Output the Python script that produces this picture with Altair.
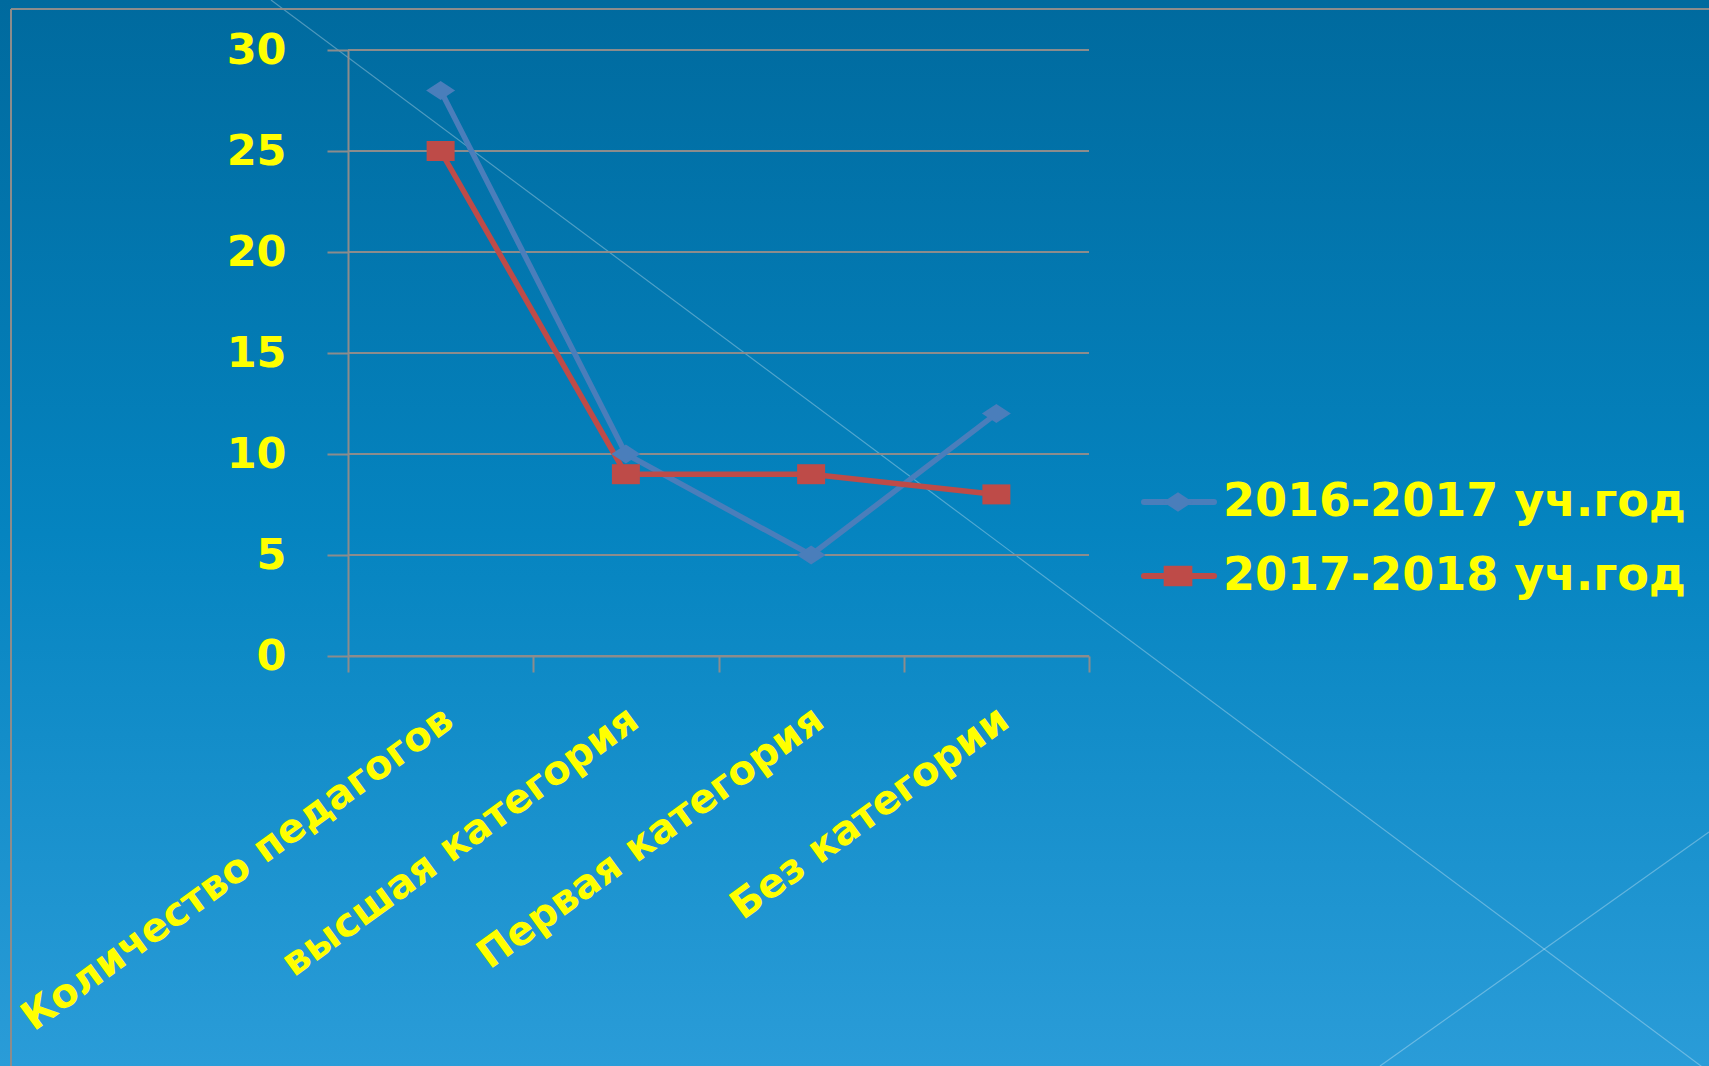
import altair as alt
import pandas as pd

# ---- data ----
categories = ["Количество педагогов", "высшая категория", "Первая категория", "Без категории"]
series_names = ["2016-2017 уч.год", "2017-2018 уч.год"]
values_2016_2017 = [28, 10, 5, 12]
values_2017_2018 = [25, 9, 9, 8]
y_ticks = [0, 5, 10, 15, 20, 25, 30]

df = pd.DataFrame({
    "category": categories * 2,
    "series": [series_names[0]] * len(categories) + [series_names[1]] * len(categories),
    "value": values_2016_2017 + values_2017_2018,
})
leg_df = pd.DataFrame({"series": series_names})
tick_df = pd.DataFrame({"value": y_ticks})

W, H = 1709, 1066
YELLOW = "#ffff00"
GRID = "#8c8c8c"
BLUE = "#4a7ebb"
RED = "#be4b48"
DIAMOND = "M0,-0.95L1.45,0L0,0.95L-1.45,0Z"
SQUARE = "M-1.4,-1H1.4V1H-1.4Z"

color_scale = alt.Scale(domain=series_names, range=[BLUE, RED])
shape_scale = alt.Scale(domain=series_names, range=[DIAMOND, SQUARE])
one = pd.DataFrame({"k": [0]})

# ---- background ----
bg = alt.Chart(one).mark_rect(
    color=alt.Gradient(
        gradient="linear",
        stops=[
            alt.GradientStop(color="#006a9e", offset=0),
            alt.GradientStop(color="#0584c0", offset=0.5),
            alt.GradientStop(color="#2a9cd8", offset=1),
        ],
        x1=0, x2=0, y1=0, y2=1,
    )
).encode(x=alt.value(0), x2=alt.value(W), y=alt.value(0), y2=alt.value(H))

deco1 = alt.Chart(one).mark_rule(color="#ffffff", opacity=0.3, strokeWidth=1.2).encode(
    x=alt.value(271), y=alt.value(0), x2=alt.value(1709), y2=alt.value(1072))
deco2 = alt.Chart(one).mark_rule(color="#ffffff", opacity=0.3, strokeWidth=1.2).encode(
    x=alt.value(1709), y=alt.value(832), x2=alt.value(1380), y2=alt.value(1066))
border_v = alt.Chart(one).mark_rule(color=GRID, strokeWidth=2).encode(
    x=alt.value(11), y=alt.value(9), y2=alt.value(H))
border_h = alt.Chart(one).mark_rule(color=GRID, strokeWidth=2).encode(
    x=alt.value(11), x2=alt.value(W), y=alt.value(9))

# ---- data layers ----
x_enc = alt.X(
    "category:N",
    sort=categories,
    bandPosition=0.5,
    scale=alt.Scale(type="band", domain=categories, range=[348, 1089],
                    paddingInner=0, paddingOuter=0),
    axis=alt.Axis(
        title=None, orient="bottom", offset=-(H - 656), grid=False, zindex=1,
        domainColor=GRID, domainWidth=2, tickColor=GRID, tickWidth=2,
        tickSize=16, tickBand="extent",
        labelAngle=-36, labelAlign="right", labelBaseline="top",
        labelFont="DejaVu Sans", labelFontWeight="bold", labelFontSize=40,
        labelColor=YELLOW, labelPadding=27, labelOffset=-4,
        labelLimit=2000, labelOverlap=False,
    ),
)
y_scale = alt.Scale(domain=[0, 30], range=[656, 50], nice=False, zero=True)
y_axis = alt.Axis(
    title=None, orient="left", offset=-348, values=y_ticks, zindex=1,
    domainColor=GRID, domainWidth=2, tickColor=GRID, tickWidth=2, tickSize=21,
    grid=False,
    labelFont="DejaVu Sans", labelFontWeight="bold", labelFontSize=43,
    labelColor=YELLOW, labelPadding=41, labelBaseline="middle",
)
y_enc = alt.Y("value:Q", scale=y_scale, axis=y_axis)

grid = alt.Chart(tick_df).mark_rule(color=GRID, strokeWidth=2).encode(
    y=y_enc, x=alt.value(348), x2=alt.value(1089),
)
base = alt.Chart(df).encode(
    x=x_enc, y=y_enc,
    color=alt.Color("series:N", scale=color_scale, legend=None),
)
lines = base.mark_line(strokeWidth=5.5)
points = base.mark_point(filled=True, opacity=1, size=400).encode(
    shape=alt.Shape("series:N", scale=shape_scale, legend=None))
data_layer = alt.layer(grid, lines, points)

# ---- legend ----
leg_y = alt.Y("series:N", scale=alt.Scale(type="point", domain=series_names,
                                           range=[502, 576], padding=0), axis=None)
leg_base = alt.Chart(leg_df).encode(
    y=leg_y,
    color=alt.Color("series:N", scale=color_scale, legend=None),
)
leg_rule = leg_base.mark_rule(strokeWidth=6, strokeCap="round").encode(
    x=alt.value(1144), x2=alt.value(1214))
leg_pt = leg_base.mark_point(filled=True, opacity=1, size=420).encode(
    x=alt.value(1178), shape=alt.Shape("series:N", scale=shape_scale, legend=None))
leg_text = alt.Chart(leg_df).mark_text(
    align="left", baseline="middle", font="DejaVu Sans", fontWeight="bold",
    fontSize=46, color=YELLOW,
).encode(x=alt.value(1223), y=leg_y, text="series:N")
legend_layer = alt.layer(leg_rule, leg_pt, leg_text)

chart = alt.layer(
    bg, deco1, deco2, border_v, border_h, data_layer, legend_layer
).resolve_scale(y="independent").properties(
    width=W, height=H, padding=0, autosize=alt.AutoSizeParams(type="none"),
    background="#0a80ba",
).configure_view(stroke=None)

chart.save("out.html", embed_options={"renderer": "svg", "actions": False})
